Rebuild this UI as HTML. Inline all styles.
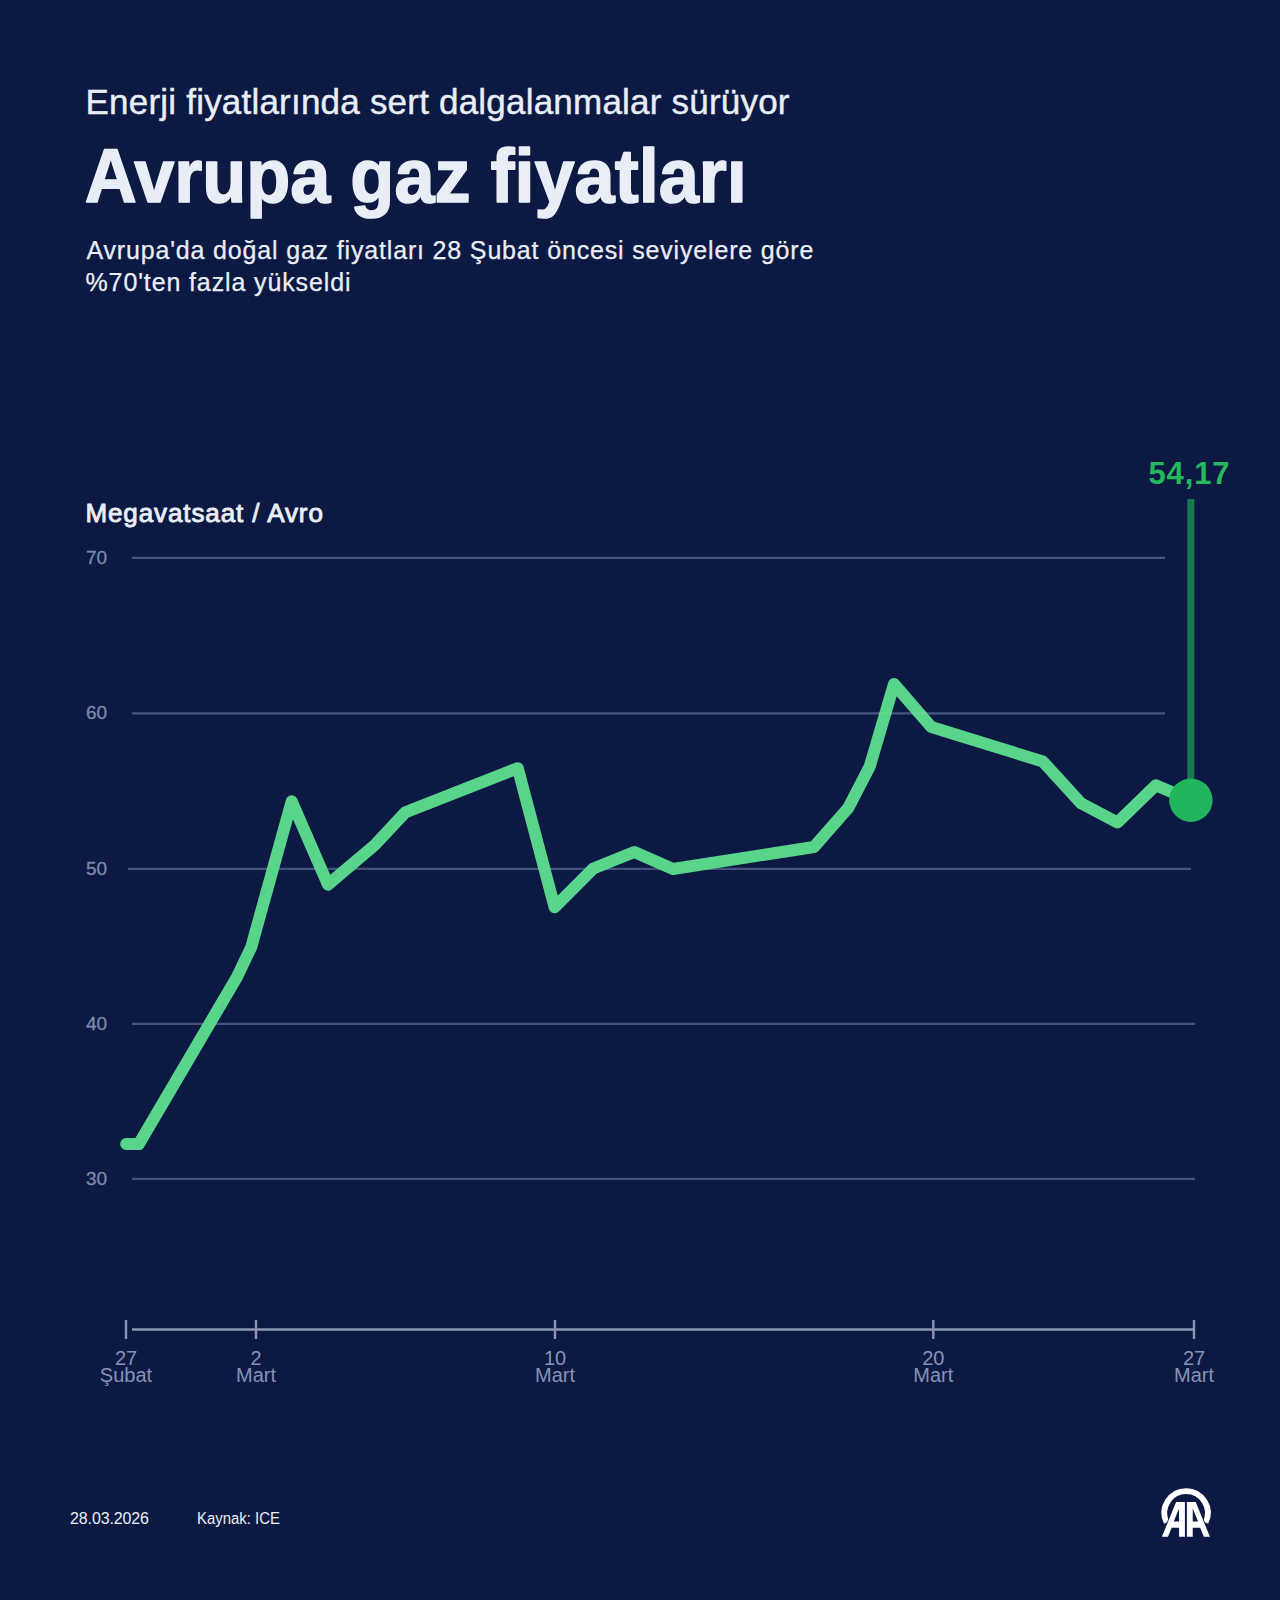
<!DOCTYPE html>
<html lang="tr">
<head>
<meta charset="utf-8">
<title>Avrupa gaz fiyatları</title>
<style>
html,body{margin:0;padding:0;background:#0c1a43;}
body{width:1280px;height:1600px;overflow:hidden;position:relative;font-family:"Liberation Sans",sans-serif;}
svg{position:absolute;left:0;top:0;}
</style>
</head>
<body>
<svg width="1280" height="1600" viewBox="0 0 1280 1600" font-family="Liberation Sans, sans-serif">
  <rect x="0" y="0" width="1280" height="1600" fill="#0c1a43"/>
  <!-- header -->
  <text id="t1" x="85.5" y="113.8" font-size="35" fill="#e9eef6" stroke="#e9eef6" stroke-width="0.4" textLength="704" lengthAdjust="spacing">Enerji fiyatlarında sert dalgalanmalar sürüyor</text>
  <text id="t2" x="84.8" y="202.2" font-size="76" font-weight="bold" fill="#e9eef6" stroke="#e9eef6" stroke-width="1.6" stroke-linejoin="round" textLength="662" lengthAdjust="spacingAndGlyphs">Avrupa gaz fiyatları</text>
  <text id="t3" x="86.4" y="259" font-size="25" fill="#e9eef6" stroke="#e9eef6" stroke-width="0.25" textLength="727" lengthAdjust="spacing">Avrupa'da doğal gaz fiyatları 28 Şubat öncesi seviyelere göre</text>
  <text id="t4" x="85.5" y="291" font-size="25" fill="#e9eef6" stroke="#e9eef6" stroke-width="0.25" textLength="265" lengthAdjust="spacing">%70'ten fazla yükseldi</text>

  <!-- unit label -->
  <text id="unit" x="85.4" y="521.9" font-size="26" fill="#e9eef6" stroke="#e9eef6" stroke-width="0.9" stroke-linejoin="round" textLength="237.5" lengthAdjust="spacing">Megavatsaat / Avro</text>

  <!-- y labels -->
  <g font-size="19" fill="#7d89ad" stroke="#7d89ad" stroke-width="0.3">
    <text x="86" y="563.6">70</text>
    <text x="86" y="719.1">60</text>
    <text x="86" y="874.6">50</text>
    <text x="86" y="1029.6">40</text>
    <text x="86" y="1184.6">30</text>
  </g>

  <!-- gridlines (on top, translucent) -->
  <g stroke="#46517a" stroke-width="2.2">
    <line x1="132" y1="557.8" x2="1165" y2="557.8" stroke="#2f3a6e"/>
    <line x1="132" y1="713.4" x2="1165" y2="713.4" stroke="#2f3a6e"/>
    <line x1="128" y1="868.8" x2="1191" y2="868.8"/>
    <line x1="132" y1="1023.8" x2="1195" y2="1023.8"/>
    <line x1="132" y1="1178.8" x2="1195" y2="1178.8"/>
  </g>
  <!-- data line -->
  <polyline fill="none" stroke="#58d48b" stroke-width="12" stroke-linejoin="round" stroke-linecap="round"
    points="126.2,1144.1 138.8,1144.1 237,977 251.3,947 291.7,801.3 328,884.7 374.8,845 405.3,812.3 517.8,768.2 554.6,907.2 593.3,868.5 634.3,852 673,869 814,847 848.5,807.6 869.7,766.6 894,684 931.4,727.1 1042.8,761.5 1081,803.2 1117.5,822.5 1155.8,785.3 1190.9,800.2"/>


  <g stroke="#c8e6dc" stroke-opacity="0.15" stroke-width="2.2">
    <line x1="132" y1="557.8" x2="1165" y2="557.8"/>
    <line x1="132" y1="713.4" x2="1165" y2="713.4"/>
  </g>
  <!-- annotation -->
  <line x1="1190.8" y1="499" x2="1190.8" y2="800" stroke="#197a4c" stroke-width="7"/>
  <circle cx="1190.9" cy="800.2" r="21.7" fill="#21b65b"/>
  <text id="ann" x="1148.5" y="484" font-size="31" font-weight="bold" fill="#25b85c" textLength="81" lengthAdjust="spacing">54,17</text>

  <!-- x axis -->
  <g stroke="#8a97b2">
    <line x1="132" y1="1329.5" x2="1194" y2="1329.5" stroke-width="2.6"/>
    <line x1="126" y1="1320" x2="126" y2="1339" stroke-width="2.4"/>
    <line x1="256" y1="1320" x2="256" y2="1339" stroke-width="2.4"/>
    <line x1="555" y1="1320" x2="555" y2="1339" stroke-width="2.4"/>
    <line x1="933.3" y1="1320" x2="933.3" y2="1339" stroke-width="2.4"/>
    <line x1="1194" y1="1320" x2="1194" y2="1339" stroke-width="2.4"/>
  </g>
  <g font-size="20" fill="#8592b6" text-anchor="middle">
    <text x="126" y="1364.7">27</text><text x="126" y="1381.9">Şubat</text>
    <text x="256" y="1364.7">2</text><text x="256" y="1381.9">Mart</text>
    <text x="555" y="1364.7">10</text><text x="555" y="1381.9">Mart</text>
    <text x="933.3" y="1364.7">20</text><text x="933.3" y="1381.9">Mart</text>
    <text x="1194" y="1364.7">27</text><text x="1194" y="1381.9">Mart</text>
  </g>

  <!-- footer -->
  <text id="date" x="70" y="1524.2" font-size="16" fill="#e9eef6" textLength="79" lengthAdjust="spacing">28.03.2026</text>
  <text id="src" x="197" y="1524.2" font-size="16" fill="#e9eef6" textLength="83" lengthAdjust="spacingAndGlyphs">Kaynak: ICE</text>

  <!-- AA logo -->
  <g transform="translate(1140,1470) scale(0.078125)">
    <path d="M 341,672 A 278,278 0 1 1 839,672" fill="none" stroke="#ffffff" stroke-width="74"/>
    <path fill="#ffffff" fill-rule="evenodd" stroke="#0c1a43" stroke-width="22" stroke-linejoin="miter" paint-order="stroke"
      d="M280,855 L462,410 L575,410 L575,855 Z M500,492 L432,660 L500,660 Z M358,855 L405,740 L500,740 L500,855 Z
         M895,855 L713,410 L600,410 L600,855 Z M675,492 L743,660 L675,660 Z M817,855 L770,740 L675,740 L675,855 Z"/>
  </g>
</svg>
</body>
</html>
